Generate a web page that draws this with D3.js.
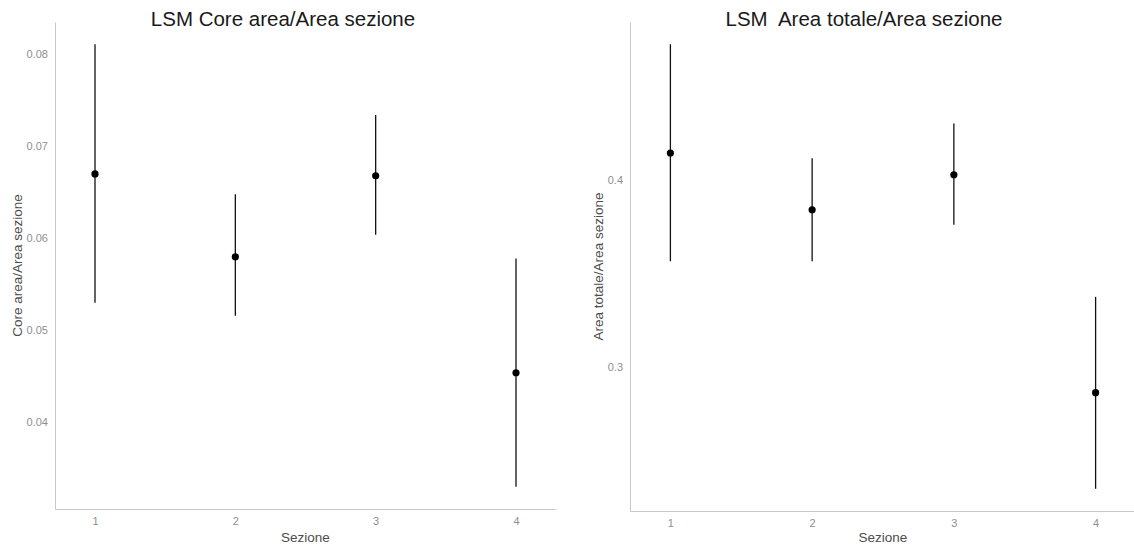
<!DOCTYPE html>
<html>
<head>
<meta charset="utf-8">
<script src="https://cdn.jsdelivr.net/npm/d3@7"></script>
<style>
  body { margin: 0; background: #fff; }
  text { font-family: "Liberation Sans", Arial, sans-serif; }
</style>
</head>
<body>
<div id="wrapper"></div>
<script>
const sezioni = [1, 2, 3, 4];

// LSM Core area/Area sezione
const coreMean = [0.0670, 0.0580, 0.0668, 0.0454];
const coreLow  = [0.0530, 0.0516, 0.0604, 0.0330];
const coreHigh = [0.0811, 0.0648, 0.0734, 0.0578];
const coreTicks = [0.04, 0.05, 0.06, 0.07, 0.08];

// LSM Area totale/Area sezione
const totMean = [0.4143, 0.3840, 0.4027, 0.2863];
const totLow  = [0.3565, 0.3565, 0.3760, 0.2350];
const totHigh = [0.4724, 0.4115, 0.4300, 0.3375];
const totTicks = [0.3, 0.4];

const svg = d3.select("#wrapper").append("svg")
  .attr("width", 1134)
  .attr("height", 546);

function drawPanel(opt) {
  const data = sezioni.map((s, i) => ({ s: s, m: opt.mean[i], lo: opt.low[i], hi: opt.high[i] }));

  const lo = d3.min(data, d => d.lo), hi = d3.max(data, d => d.hi);
  const pad = (hi - lo) * 0.05;

  const xScale = d3.scaleLinear()
    .domain([0.715, 4.285])
    .range([opt.left, opt.right]);

  const yScale = d3.scaleLinear()
    .domain([lo - pad, hi + pad])
    .range([opt.bottom, opt.top]);

  const g = svg.append("g");

  const xAxis = g.append("g")
    .attr("transform", `translate(0,${opt.bottom})`)
    .call(d3.axisBottom(xScale).tickValues(sezioni).tickFormat(d3.format("d")).tickSize(0).tickPadding(8));

  const yAxis = g.append("g")
    .attr("transform", `translate(${opt.left},0)`)
    .call(d3.axisLeft(yScale).tickValues(opt.ticks).tickFormat(opt.fmt).tickSize(0).tickPadding(7));

  [xAxis, yAxis].forEach(a => {
    a.select(".domain").attr("stroke", "#c9c9c9").attr("stroke-width", 1);
    a.selectAll("text").attr("fill", "#8f8f8f").style("font-size", "11px");
  });

  g.selectAll("line.err")
    .data(data)
    .join("line")
    .attr("class", "err")
    .attr("x1", d => xScale(d.s))
    .attr("x2", d => xScale(d.s))
    .attr("y1", d => yScale(d.lo))
    .attr("y2", d => yScale(d.hi))
    .attr("stroke", "#111")
    .attr("stroke-width", 1.3);

  g.selectAll("circle")
    .data(data)
    .join("circle")
    .attr("cx", d => xScale(d.s))
    .attr("cy", d => yScale(d.m))
    .attr("r", 3.6)
    .attr("fill", "#000");

  g.append("text")
    .attr("x", opt.titleX)
    .attr("y", 26)
    .attr("text-anchor", "middle")
    .attr("fill", "#1a1a1a")
    .style("font-size", "20.5px")
    .style("white-space", "pre")
    .text(opt.title);

  g.append("text")
    .attr("x", (opt.left + opt.right) / 2)
    .attr("y", 542)
    .attr("text-anchor", "middle")
    .attr("fill", "#4d4d4d")
    .style("font-size", "13.5px")
    .text("Sezione");

  g.append("text")
    .attr("transform", `translate(${opt.yTitleX},${(opt.top + opt.bottom) / 2}) rotate(-90)`)
    .attr("text-anchor", "middle")
    .attr("fill", "#4d4d4d")
    .style("font-size", "13.5px")
    .text(opt.yTitle);
}

drawPanel({
  mean: coreMean, low: coreLow, high: coreHigh, ticks: coreTicks,
  fmt: d3.format(".2f"),
  left: 55, right: 556, top: 22, bottom: 509,
  title: "LSM Core area/Area sezione", titleX: 283,
  yTitle: "Core area/Area sezione", yTitleX: 22
});

drawPanel({
  mean: totMean, low: totLow, high: totHigh, ticks: totTicks,
  fmt: d3.format(".1f"),
  left: 630, right: 1136, top: 22, bottom: 511,
  title: "LSM  Area totale/Area sezione", titleX: 864,
  yTitle: "Area totale/Area sezione", yTitleX: 603
});
</script>
</body>
</html>
